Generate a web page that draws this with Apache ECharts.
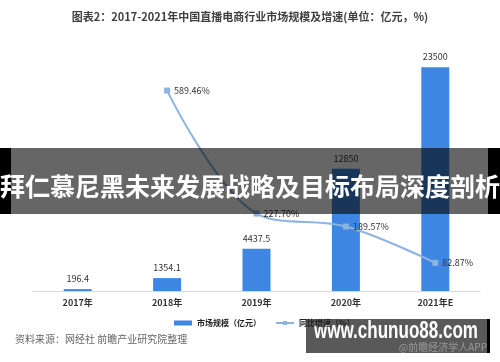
<!DOCTYPE html>
<html><head><meta charset="utf-8">
<script src="https://cdn.jsdelivr.net/npm/echarts@6/dist/echarts.min.js"></script>
<style>html,body{margin:0;padding:0;background:#fff}#c{width:500px;height:362px}</style>
</head><body><div id="c"></div>
<script>
const categories = ['2017年','2018年','2019年','2020年','2021年E'];
const marketSize = [196.4, 1354.1, 4437.5, 12850, 23500];
const growthRate = [null, 589.46, 227.70, 189.57, 82.87];
const titleText = '图表2：2017-2021年中国直播电商行业市场规模及增速(单位：亿元，%)';
const sourceText = '资料来源：网经社 前瞻产业研究院整理';
const bannerText = '拜仁慕尼黑未来发展战略及目标布局深度剖析';
const siteText = 'www.chunuo88.com';
const siteSub = '@前瞻经济学人APP';
const FONT = '"Noto Sans CJK SC", "Noto Sans", sans-serif';

const siteFont = 'bold 23px "Liberation Sans", Arial, sans-serif';
const cv = document.createElement('canvas').getContext('2d');
cv.font = siteFont;
const siteScale = 164 / cv.measureText(siteText).width;

const chart = echarts.init(document.getElementById('c'));
chart.setOption({
  animation: false,
  textStyle: { fontFamily: FONT },
  title: { text: titleText, left: 'center', top: 6,
    textStyle: { fontSize: 11, fontWeight: 'bold', color: '#404040', fontFamily: FONT } },
  grid: { left: 33, right: 20, top: 53, bottom: 71 },
  legend: { top: 314, left: 169, itemWidth: 18, itemHeight: 5, itemGap: 14, zlevel: 1,
    textStyle: { fontSize: 8, fontWeight: 'bold', color: '#222' },
    data: [{ name: '市场规模（亿元）', icon: 'rect' }, { name: '同比增速（%）' }] },
  xAxis: { type: 'category', data: categories,
    axisLine: { lineStyle: { color: '#d9d9d9' } }, axisTick: { show: false },
    axisLabel: { fontSize: 9, fontWeight: 'bold', color: '#333', margin: 7 } },
  yAxis: [
    { type: 'value', min: 0, max: 25000, show: false, splitLine: { show: false } },
    { type: 'value', min: 0, max: 700, show: false, splitLine: { show: false } }
  ],
  series: [
    { name: '市场规模（亿元）', type: 'bar', data: marketSize, barWidth: 28,
      itemStyle: { color: '#3e86e2' },
      label: { show: true, position: 'top', fontSize: 9, color: '#333', distance: 6 } },
    { name: '同比增速（%）', type: 'line', yAxisIndex: 1, data: growthRate, smooth: 0.35,
      symbol: 'rect', symbolSize: 6, connectNulls: false,
      lineStyle: { color: '#8db3e2', width: 2 }, itemStyle: { color: '#8db3e2' },
      label: { show: true, position: 'right', fontSize: 9, color: '#333', distance: 4,
        formatter: p => p.value.toFixed(2) + '%' } }
  ],
  graphic: [
    { type: 'text', left: 15, top: 334, style: { text: sourceText, fontSize: 10, fill: '#666', fontFamily: FONT } },
    { type: 'rect', shape: { x: 0, y: 148, width: 11, height: 66 }, style: { fill: '#000' }, z: 100 },
    { type: 'rect', shape: { x: 488, y: 148, width: 12, height: 66 }, style: { fill: '#000' }, z: 100 },
    { type: 'rect', shape: { x: 11, y: 148, width: 477, height: 66 }, style: { fill: 'rgba(0,0,0,0.6)' }, z: 100 },
    { type: 'text', x: 250, y: 186, z: 101, style: { text: bannerText, fontSize: 25, fontWeight: 'bold',
      fill: '#fff', align: 'center', verticalAlign: 'middle', fontFamily: FONT } },
    { type: 'rect', shape: { x: 306, y: 319, width: 181, height: 34 }, style: { fill: 'rgba(60,60,60,0.85)' }, z: 100 },
    { type: 'rect', shape: { x: 487, y: 319, width: 3, height: 34 }, style: { fill: '#000' }, z: 100 },
    { type: 'text', x: 396, y: 332, scaleX: siteScale, z: 101, style: { text: siteText, font: siteFont,
      fill: '#fff', align: 'center', verticalAlign: 'middle' } },
    { type: 'text', x: 487, y: 347, z: 101, style: { text: siteSub, fontSize: 10,
      fill: '#999', align: 'right', verticalAlign: 'middle', fontFamily: FONT } }
  ]
});
</script></body></html>
